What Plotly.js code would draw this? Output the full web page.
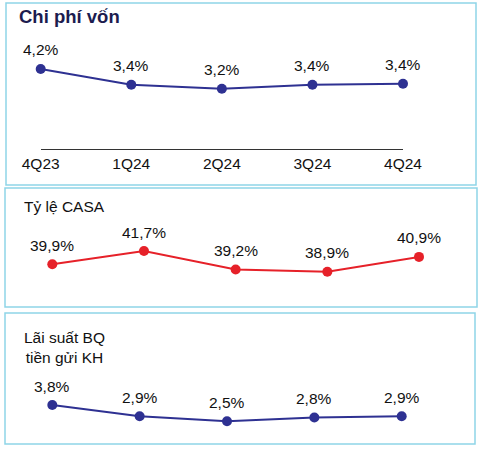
<!DOCTYPE html>
<html>
<head>
<meta charset="utf-8">
<script src="https://cdn.plot.ly/plotly-3.0.1.min.js"></script>
<style>html,body{margin:0;padding:0;background:#fff;}#chart{width:487px;height:451px;}</style>
</head>
<body>
<div id="chart"></div>
<script>
const quarters = ["4Q23", "1Q24", "2Q24", "3Q24", "4Q24"];
const costOfFunds = [4.2, 3.4, 3.2, 3.4, 3.45];
const costOfFundsLabels = ["4,2%", "3,4%", "3,2%", "3,4%", "3,4%"];
const casaRatio = [39.9, 41.7, 39.2, 38.9, 40.9];
const casaLabels = ["39,9%", "41,7%", "39,2%", "38,9%", "40,9%"];
const depositRate = [3.8, 2.9, 2.5, 2.8, 2.9];
const depositLabels = ["3,8%", "2,9%", "2,5%", "2,8%", "2,9%"];

const W = 487, H = 451;
const FONT = "Liberation Sans, Arial, sans-serif";
const NAVY = "#2e3192";
const RED = "#e62129";
const BORDER = "#8fd5e8";
const px = v => v / W;
const py = v => 1 - v / H;

function trace(y, color, xa, ya) {
  return {
    x: quarters, y: y, type: "scatter", mode: "lines+markers",
    line: {color: color, width: 2},
    marker: {color: color, size: 10},
    xaxis: xa, yaxis: ya, hoverinfo: "skip", cliponaxis: false
  };
}

const data = [
  trace(costOfFunds, NAVY, "x", "y"),
  trace(casaRatio, RED, "x2", "y2"),
  trace(depositRate, NAVY, "x3", "y3")
];

const annotations = [];
function addLabels(vals, labels, xr, yr) {
  vals.forEach((v, i) => {
    annotations.push({
      x: quarters[i], y: v, xref: xr, yref: yr, text: labels[i],
      showarrow: false, yshift: 19, yanchor: "middle", xanchor: "center",
      font: {family: FONT, size: 15.5, color: "#111"}
    });
  });
}
addLabels(costOfFunds, costOfFundsLabels, "x", "y");
addLabels(casaRatio, casaLabels, "x2", "y2");
addLabels(depositRate, depositLabels, "x3", "y3");

annotations.push({
  xref: "paper", yref: "paper", x: px(17), y: py(16), xanchor: "left", yanchor: "middle",
  text: "<b>Chi phí vốn</b>", showarrow: false,
  font: {family: FONT, size: 18.5, color: "#1c1c4f"}
});
annotations.push({
  xref: "paper", yref: "paper", x: px(22), y: py(206), xanchor: "left", yanchor: "middle",
  text: "Tỷ lệ CASA", showarrow: false,
  font: {family: FONT, size: 15.5, color: "#111"}
});
annotations.push({
  xref: "paper", yref: "paper", x: px(64), y: py(347.5), xanchor: "center", yanchor: "middle",
  text: "Lãi suất BQ<br>tiền gửi KH", showarrow: false, align: "center",
  font: {family: FONT, size: 15.5, color: "#111"}
});

function rect(x0, y0, x1, y1) {
  return {type: "rect", xref: "paper", yref: "paper",
    x0: px(x0), x1: px(x1), y0: py(y1), y1: py(y0),
    line: {color: BORDER, width: 1.5}, fillcolor: "rgba(0,0,0,0)"};
}

const hiddenY = {showgrid: false, zeroline: false, showticklabels: false, showline: false, fixedrange: true};
const hiddenX = {type: "category", showgrid: false, zeroline: false, showticklabels: false, showline: false, ticks: "", fixedrange: true};

const layout = {
  width: W, height: H,
  margin: {l: 0, r: 0, t: 0, b: 0},
  paper_bgcolor: "#fff", plot_bgcolor: "rgba(0,0,0,0)",
  showlegend: false,
  font: {family: FONT},
  xaxis: {type: "category", domain: [px(40.7), px(403)], range: [0, 4],
    showgrid: false, zeroline: false, showline: true, linecolor: "#333", linewidth: 1,
    ticks: "", showticklabels: true, tickfont: {family: FONT, size: 15.5, color: "#111"},
    anchor: "y", fixedrange: true},
  yaxis: Object.assign({domain: [py(149), py(29)], range: [0.139, 6.23], anchor: "x"}, hiddenY),
  xaxis2: Object.assign({domain: [px(52.3), px(419)], range: [0, 4], anchor: "y2"}, hiddenX),
  yaxis2: Object.assign({domain: [py(300), py(215)], range: [35.07, 46.57], anchor: "x2"}, hiddenY),
  xaxis3: Object.assign({domain: [px(52.3), px(401.7)], range: [0, 4], anchor: "y3"}, hiddenX),
  yaxis3: Object.assign({domain: [py(435), py(370)], range: [1.41, 6.59], anchor: "x3"}, hiddenY),
  shapes: [rect(6, 3, 476, 185), rect(5, 188, 477, 307), rect(5, 313, 475, 444)],
  annotations: annotations
};

Plotly.newPlot("chart", data, layout, {displayModeBar: false, staticPlot: true});
</script>
</body>
</html>
